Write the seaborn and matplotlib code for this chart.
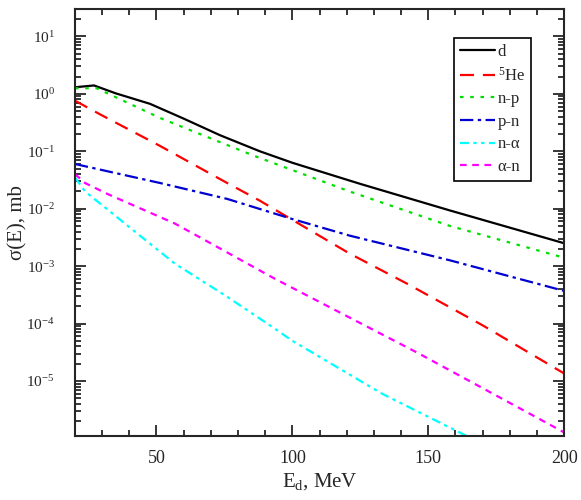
import pandas as pd
import seaborn as sns
import matplotlib.pyplot as plt
import numpy as np
from matplotlib.ticker import MultipleLocator, LogLocator, NullFormatter

# Data (E in MeV, sigma in mb)
E_d = [20, 27, 35, 47.6, 60, 73.4, 88, 100, 125, 158, 200]
sig_d = [1.3, 1.4, 1.02, 0.67, 0.37, 0.19, 0.10, 0.063, 0.027, 0.0093, 0.0025]

E_np = [20, 28, 51.3, 86, 121, 158, 200]
sig_np = [1.25, 1.25, 0.38, 0.083, 0.020, 0.005, 0.0014]

E_he = [20, 30, 51, 76, 88, 121, 142, 170, 200]
sig_he = [0.76, 0.42, 0.126, 0.028, 0.0138, 0.00166, 5.0e-4, 9.3e-5, 1.35e-5]

E_pn = [20, 51.3, 76, 100, 121, 158, 200]
sig_pn = [0.060, 0.028, 0.0148, 0.0066, 0.0034, 0.00126, 0.00037]

E_na = [20, 23.7, 38.4, 56.8, 75.2, 93.6, 100, 133, 165]
sig_na = [0.035, 0.02, 0.0055, 1.1e-3, 3.1e-4, 8.1e-5, 5e-5, 6e-6, 1.05e-6]

E_an = [20, 23.7, 32, 56.8, 93.6, 146, 200]
sig_an = [0.04, 0.028, 0.018, 0.0055, 6e-4, 3.1e-5, 1.27e-6]

labels = ['d', '$^{5}$He', 'n-p', 'p-n', 'n-α', 'α-n']
series = [(E_d, sig_d), (E_he, sig_he), (E_np, sig_np),
          (E_pn, sig_pn), (E_na, sig_na), (E_an, sig_an)]

rows = []
for lab, (ee, ss) in zip(labels, series):
    for e, s in zip(ee, ss):
        rows.append({'E': e, 'sigma': s, 'channel': lab})
df = pd.DataFrame(rows)

colors = {'d': 'black', '$^{5}$He': '#ff0000', 'n-p': '#00e000',
          'p-n': '#0000d0', 'n-α': '#00ffff', 'α-n': '#ff00ff'}
dashes = {'d': '', '$^{5}$He': (6.3, 4), 'n-p': (1.6, 3),
          'p-n': (6, 2, 1.5, 2), 'n-α': (4, 2, 1.5, 2, 1.5, 2), 'α-n': (3, 2.5)}

sns.set_style('ticks')
plt.rcParams['font.family'] = ['Liberation Serif', 'DejaVu Serif']
plt.rcParams['mathtext.fontset'] = 'custom'
plt.rcParams['mathtext.rm'] = 'Liberation Serif'
plt.rcParams['mathtext.it'] = 'Liberation Serif:italic'

fig = plt.figure(figsize=(5.81, 5.0), dpi=100)
ax = fig.add_axes([0.129, 0.128, 0.842, 0.854])

sns.lineplot(data=df, x='E', y='sigma', hue='channel', style='channel',
             hue_order=labels, style_order=labels, palette=colors,
             dashes=dashes, estimator=None, sort=False, linewidth=1.6, ax=ax)

ax.set_yscale('log')
ax.set_xlim(20, 200)
ax.set_ylim(1.1e-6, 30)

ax.xaxis.set_major_locator(MultipleLocator(50))
ax.xaxis.set_minor_locator(MultipleLocator(10))
ax.yaxis.set_major_locator(LogLocator(base=10, numticks=20))
ax.yaxis.set_minor_locator(LogLocator(base=10, subs=np.arange(2, 10), numticks=20))
ax.yaxis.set_minor_formatter(NullFormatter())

ax.tick_params(which='both', direction='in', top=True, right=True, width=1.3)
ax.tick_params(which='major', length=8)
ax.tick_params(which='minor', length=4.5)
ax.tick_params(axis='x', which='major', pad=10, labelsize=13)
ax.tick_params(axis='y', which='major', pad=14.5, labelsize=11)
for sp in ax.spines.values():
    sp.set_linewidth(1.5)

ax.set_xlabel('E$_{\\rm d}$, MeV', fontsize=15, labelpad=3)
ax.set_ylabel('σ(E), mb', fontsize=15)
ax.yaxis.set_label_coords(-0.097, 0.5)

handles, labs = ax.get_legend_handles_labels()
leg = ax.legend(handles, labs, loc='upper right', bbox_to_anchor=(0.932, 0.932),
                borderaxespad=0, fontsize=12, handlelength=2.1, handletextpad=0.2,
                labelspacing=0.4, borderpad=0.35, fancybox=False,
                edgecolor='black', framealpha=1)
leg.get_frame().set_linewidth(1.2)

plt.savefig('out.png', dpi=100)
